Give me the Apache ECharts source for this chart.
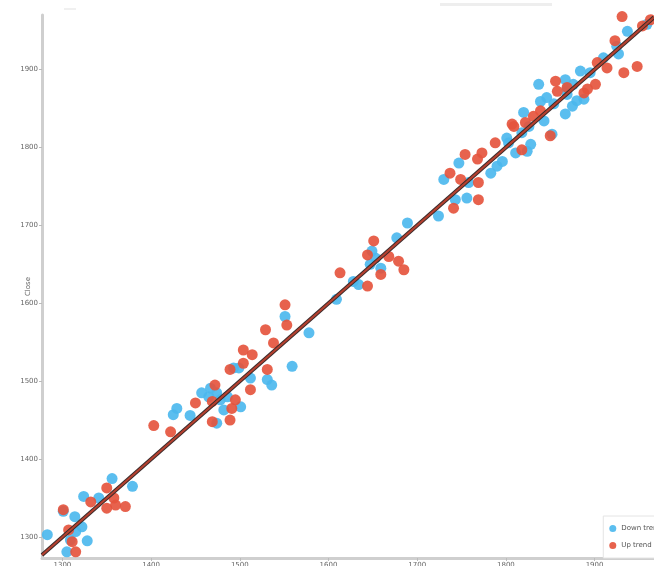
<!DOCTYPE html>
<html><head><meta charset="utf-8">
<script src="https://cdn.jsdelivr.net/npm/echarts@6/dist/echarts.min.js"></script>
<style>html,body{margin:0;padding:0;background:#fff}#c{width:654px;height:566px}</style>
</head><body><div id="c"></div>
<script>
// Down trend (blue): [Open, Close]
const downTrend = [
  [1283,1303],[1301,1333],[1314,1326],[1324,1352],[1322,1313],[1328,1295],[1309,1296],[1305,1281],
  [1341,1350],[1356,1375],[1379,1365],[1315,1307],
  [1425,1457],[1429,1465],[1444,1456],[1457,1485],[1467,1491],[1474,1485],[1478,1476],[1482,1463],
  [1474,1446],[1493,1517],[1499,1517],[1501,1467],[1512,1504],[1531,1502],[1536,1495],[1559,1519],
  [1551,1583],[1578,1562],[1465,1480],[1486,1480],
  [1628,1628],[1634,1624],[1649,1667],[1653,1658],[1659,1645],[1677,1684],[1689,1703],[1647,1650],[1609,1605],
  [1730,1759],[1747,1780],[1743,1733],[1756,1735],[1758,1755],[1783,1767],[1790,1776],[1796,1782],
  [1803,1806],[1811,1793],[1818,1819],[1826,1827],[1724,1712],[1801,1812],[1820,1845],[1837,1881],
  [1839,1859],[1846,1864],[1852,1817],[1843,1834],[1854,1856],[1867,1843],[1869,1868],[1876,1881],
  [1884,1898],[1875,1853],[1880,1860],[1828,1804],[1824,1795],[1937,1949],[1925,1930],[1927,1920],
  [1910,1915],[1895,1896],[1869,1875],[1888,1862],[1959,1958],[1867,1887]
];
// Up trend (red): [Open, Close]
const upTrend = [
  [1307,1309],[1315,1281],[1311,1294],[1332,1345],[1350,1363],[1358,1350],[1350,1337],[1371,1339],
  [1301,1335],[1360,1341],
  [1403,1443],[1422,1435],[1450,1472],[1469,1448],[1472,1495],[1489,1515],[1491,1465],[1489,1450],
  [1495,1476],[1504,1540],[1514,1534],[1512,1489],[1531,1515],[1529,1566],[1538,1549],[1551,1598],
  [1553,1572],[1469,1474],[1504,1523],
  [1613,1639],[1644,1622],[1651,1680],[1644,1662],[1659,1637],[1668,1660],[1679,1654],[1685,1643],
  [1737,1767],[1749,1759],[1754,1791],[1768,1785],[1773,1793],[1769,1755],[1769,1733],[1741,1722],
  [1788,1806],[1809,1827],[1818,1797],[1807,1830],[1822,1832],[1831,1840],[1839,1847],[1856,1885],
  [1858,1872],[1869,1877],[1888,1870],[1850,1815],[1931,1968],[1923,1937],[1903,1909],[1914,1902],
  [1933,1896],[1948,1904],[1901,1881],[1892,1875],[1954,1956],[1963,1964]
];
// regression line endpoints
const trendLine = [[1277,1277],[1967,1967]];
const tickValues = [1300,1400,1500,1600,1700,1800,1900];
const seriesNames = ['Down trend','Up trend'];

const chart = echarts.init(document.getElementById('c'));
const labelCommon = {customValues:tickValues,fontSize:7,color:'#666',fontFamily:'DejaVu Sans',margin:4,
  formatter:v=>String(v)};
const axisCommon = {
  type:'value',
  axisLine:{show:true,lineStyle:{color:'#cfcfcf',width:3}},
  axisTick:{show:true,customValues:tickValues,length:3,lineStyle:{color:'#bbb'}},
  axisLabel:labelCommon,
  splitLine:{show:false}
};
chart.setOption({
  animation:false,
  grid:{left:42,right:0,top:15,bottom:8,containLabel:false,outerBoundsMode:'none'},
  graphic:[
    {type:'rect',shape:{x:440,y:3,width:112,height:3},style:{fill:'#eeeeee'}},
    {type:'rect',shape:{x:64,y:8,width:12,height:2},style:{fill:'#f0f0f0'}}
  ],
  xAxis:Object.assign({},axisCommon,{min:1277,max:1967}),
  yAxis:Object.assign({},axisCommon,{min:1273,max:1970,name:'Close',nameLocation:'middle',nameGap:10,
    nameMoveOverlap:false,
    nameTextStyle:{fontSize:7,color:'#666',fontFamily:'DejaVu Sans'}}),
  legend:{
    data:seriesNames, right:-14, bottom:8, orient:'vertical',
    backgroundColor:'#fff', borderColor:'#e4e4e4', borderWidth:1, padding:[9,6,9,6],
    itemWidth:7, itemHeight:7, itemGap:10, icon:'circle',
    textStyle:{fontSize:7,color:'#555',fontFamily:'DejaVu Sans'}
  },
  series:[
    {name:seriesNames[0],type:'scatter',data:downTrend,symbolSize:11,
      itemStyle:{color:'#4db8ee',opacity:0.92},z:2},
    {name:seriesNames[1],type:'scatter',data:upTrend,symbolSize:11,
      itemStyle:{color:'#e5553e',opacity:0.92},z:2},
    {type:'line',data:trendLine,symbol:'none',silent:true,
      lineStyle:{color:'#3a2a2a',width:4},z:3},
    {type:'line',data:trendLine,symbol:'none',silent:true,
      lineStyle:{color:'#b5402f',width:2},z:4}
  ]
});
</script></body></html>
